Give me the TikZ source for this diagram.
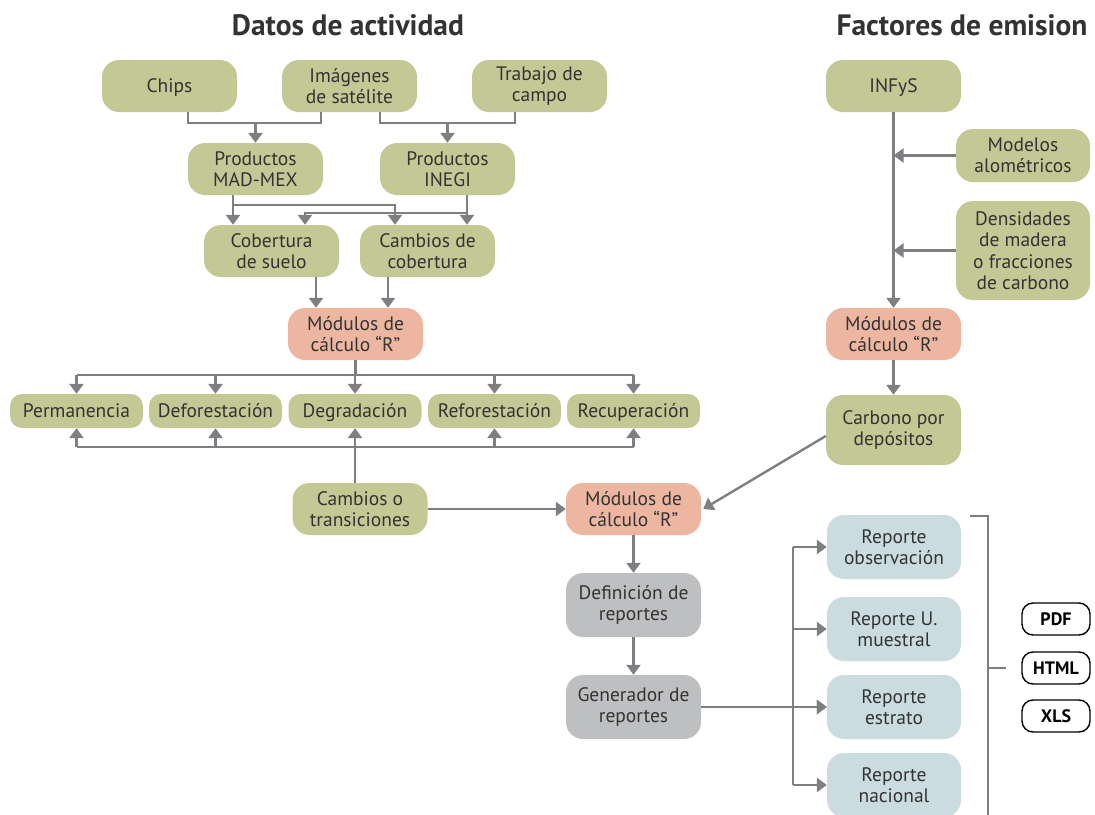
\documentclass[tikz,border=0pt]{standalone}
\usepackage{fontspec}
\setmainfont{PT Sans}
\usetikzlibrary{arrows.meta}
\definecolor{boxgreen}{HTML}{C4C895}
\definecolor{boxsalmon}{HTML}{EDB6A1}
\definecolor{boxgrey}{HTML}{BEBFC1}
\definecolor{boxblue}{HTML}{CBDCE0}
\definecolor{linegrey}{HTML}{7E7F83}
\definecolor{ink}{HTML}{333333}
\newcommand{\boxfont}{\fontsize{19.5}{21.5}\selectfont}
\newcommand{\titlefont}{\fontsize{29.5}{32}\selectfont\bfseries}
\newcommand{\fmtfont}{\fontsize{18}{19}\selectfont\bfseries}
\begin{document}
\begin{tikzpicture}[x=1pt,y=-1pt,
  base/.style={rounded corners=17pt, minimum width=135pt, minimum height=52pt,
    align=center, inner sep=0pt, text=ink, font=\boxfont},
  green/.style={base, fill=boxgreen},
  salmon/.style={base, fill=boxsalmon},
  grey/.style={base, fill=boxgrey},
  blue/.style={base, fill=boxblue},
  oneline/.style={text height=13.5pt, text depth=1pt},
  rowbox/.style={green, oneline, minimum width=133pt, minimum height=34pt, rounded corners=12pt},
  fmt/.style={draw=black, line width=1.4pt, fill=white, rounded corners=11pt,
    minimum width=68pt, minimum height=32pt, inner sep=0pt, text=black, font=\fmtfont},
  title/.style={text=ink, font=\titlefont, inner sep=0pt},
  ln/.style={draw=linegrey, line width=2.4pt},
  arr/.style={ln, -{Triangle[width=14pt,length=10pt]}},
  bracket/.style={draw=linegrey, line width=2pt}]

\clip (0,0) rectangle (1095,814);

% headings
\node[title] (t1) at (348,25) {Datos de actividad};
\node[title] (t2) at (962,25) {Factores de emision};

% activity data inputs
\node[green, oneline] (chips) at (169.5,86) {Chips};
\node[green] (imag) at (349.5,86) {Imágenes\\de satélite};
\node[green] (trab) at (539.5,86) {Trabajo de\\campo};
\node[green] (mad) at (255.5,169) {Productos\\MAD-MEX};
\node[green] (inegi) at (447.5,169) {Productos\\INEGI};
\node[green] (cob) at (271.5,251) {Cobertura\\de suelo};
\node[green] (camb) at (427.5,251) {Cambios de\\cobertura};
\node[salmon] (mod1) at (355.5,334) {Módulos de\\cálculo “R”};

% land-use categories
\node[rowbox] (perm) at (76.5,411) {Permanencia};
\node[rowbox] (defo) at (215.5,411) {Deforestación};
\node[rowbox] (degr) at (355,411) {Degradación};
\node[rowbox] (refo) at (494.5,411) {Reforestación};
\node[rowbox] (recu) at (633.5,411) {Recuperación};

\node[green] (trans) at (360,509) {Cambios o\\transiciones};
\node[salmon] (mod2) at (633.5,509) {Módulos de\\cálculo “R”};
\node[grey, minimum height=64pt] (defr) at (633.5,605) {Definición de\\reportes};
\node[grey, minimum height=64pt] (gen) at (633.5,707) {Generador de\\reportes};

% emission factors
\node[green, oneline] (infys) at (893.5,86) {INFyS};
\node[green, minimum width=134pt, minimum height=53pt] (alom) at (1023,155.5) {Modelos\\alométricos};
\node[green, minimum width=134pt, minimum height=99pt] (dens) at (1023,250.5) {Densidades\\de madera\\o fracciones\\de carbono};
\node[salmon] (mod3) at (893.5,334) {Módulos de\\cálculo “R”};
\node[green, minimum height=70pt] (carb) at (893.5,430) {Carbono por\\depósitos};

% reports
\node[blue, minimum width=134pt, minimum height=64pt] (obs) at (894,547) {Reporte\\observación};
\node[blue, minimum width=134pt, minimum height=64pt] (mue) at (894,629) {Reporte U.\\muestral};
\node[blue, minimum width=134pt, minimum height=64pt] (est) at (894,707) {Reporte\\estrato};
\node[blue, minimum width=134pt, minimum height=64pt] (nac) at (894,785) {Reporte\\nacional};

\node[fmt] (pdf) at (1056,619) {PDF};
\node[fmt] (html) at (1056,668) {HTML};
\node[fmt] (xls) at (1056,716) {XLS};

% junction levels
\coordinate (j1) at (0,123);
\coordinate (h1) at (0,375);
\coordinate (h2) at (0,447);
\coordinate (vx) at (793,0);

% inputs to products
\draw[ln] ([xshift=18.5pt]chips.south) -- ++(0,11) -| ([xshift=-28.5pt]imag.south);
\draw[arr] (mad.north |- j1) -- (mad.north);
\draw[ln] ([xshift=30.5pt]imag.south) -- ++(0,11) -| ([xshift=-24.5pt]trab.south);
\draw[arr] (inegi.north |- j1) -- (inegi.north);

% products to coverage
\draw[arr] ([xshift=-22.5pt]mad.south) -- ([xshift=-38.5pt]cob.north);
\draw[arr] ([xshift=-22.5pt]mad.south) ++(0,10) -| ([xshift=-32.5pt]camb.north);
\draw[arr] ([xshift=19.5pt]inegi.south) -- ([xshift=39.5pt]camb.north);
\draw[arr] ([xshift=19.5pt]inegi.south) ++(0,18) -| ([xshift=33.5pt]cob.north);

% coverage to R modules
\draw[arr] ([xshift=44.5pt]cob.south) -- ([xshift=-39.5pt]mod1.north);
\draw[arr] ([xshift=-39.5pt]camb.south) -- ([xshift=32.5pt]mod1.north);

% R modules to categories
\draw[ln] (mod1.south) -- (mod1.south |- h1);
\draw[ln] (perm.north |- h1) -- (recu.north |- h1);
\foreach \n in {perm,defo,degr,refo,recu}
  \draw[arr] (\n.north |- h1) -- (\n.north);

% transitions to categories
\draw[ln] (perm.south |- h2) -- (recu.south |- h2);
\draw[ln] (trans.north -| degr.south) -- (degr.south |- h2);
\foreach \n in {perm,defo,degr,refo,recu}
  \draw[arr] (\n.south |- h2) -- (\n.south);

% report chain
\draw[arr] (trans.east) -- (mod2.west);
\draw[arr] ([yshift=-6pt]carb.west) -- ([xshift=2pt]mod2.east);
\draw[arr] (mod2.south) -- (defr.north);
\draw[arr] (defr.south) -- (gen.north);
\draw[arr] (gen.east) -- (est.west);
\draw[ln] (vx |- obs.west) -- (vx |- nac.west);
\foreach \n in {obs,mue,est,nac}
  \draw[arr] (vx |- \n.west) -- (\n.west);

% emission factor chain
\draw[arr] (infys.south) -- (mod3.north);
\draw[arr] (alom.west) -- (alom.west -| infys.south);
\draw[arr] (dens.west) -- (dens.west -| infys.south);
\draw[arr] (mod3.south) -- (carb.north);

% output formats bracket
\coordinate (b1) at (970,516);
\coordinate (b2) at (988,820);
\coordinate (b3) at (1006,668);
\draw[bracket] (b1) -| (b2);
\draw[bracket] (b3 -| b2) -- (b3);

\end{tikzpicture}
\end{document}
